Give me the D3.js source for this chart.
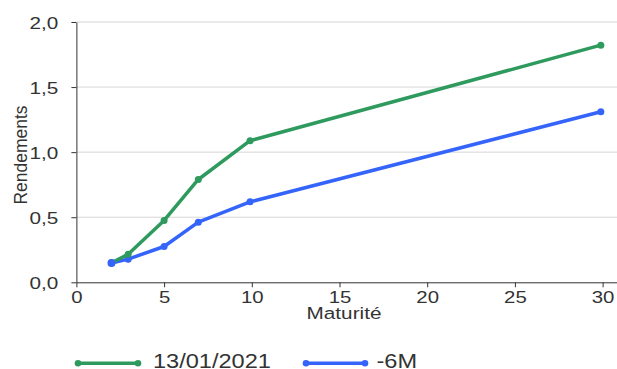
<!DOCTYPE html>
<html>
<head>
<meta charset="utf-8">
<script src="https://cdn.jsdelivr.net/npm/d3@7"></script>
<style>
  html, body { margin: 0; padding: 0; background: #fff; }
  svg { display: block; font-family: "Liberation Sans", Arial, sans-serif; }
</style>
</head>
<body>
<svg id="chart" width="617" height="369"></svg>
<script>
// Maturités (années) et rendements (%)
const maturities = [2, 2.95, 5, 6.95, 9.9, 29.9];
const seriesNames = ["13/01/2021", "-6M"];
const current = [0.15, 0.215, 0.475, 0.79, 1.088, 1.822];
const sixMonthsAgo = [0.148, 0.178, 0.275, 0.462, 0.618, 1.31];
const colors = ["#2e9a5d", "#3564fb"];
const xTicks = [0, 5, 10, 15, 20, 25, 30];
const yTicks = [0, 0.5, 1.0, 1.5, 2.0];

const svg = d3.select("#chart");
const plot = { left: 76.4, right: 617, top: 22, bottom: 282.3 };

const x = d3.scaleLinear().domain([0, 30]).range([plot.left, 602.6]);
x.domain([0, x.invert(plot.right)]).range([plot.left, plot.right]);
const y = d3.scaleLinear().domain([0, 2]).range([plot.bottom, plot.top]);

const fmt = d3.format(".1f");
const frFmt = v => fmt(v).replace(".", ",");

// horizontal grid
svg.append("g")
  .selectAll("line")
  .data(yTicks.filter(d => d > 0))
  .join("line")
  .attr("x1", plot.left).attr("x2", plot.right)
  .attr("y1", d => y(d)).attr("y2", d => y(d))
  .attr("stroke", "#d6d6d6").attr("stroke-width", 1);

// y axis
const gy = svg.append("g")
  .attr("transform", `translate(${plot.left},0)`)
  .call(d3.axisLeft(y).tickValues(yTicks).tickFormat(frFmt).tickSize(5).tickSizeOuter(0));
gy.select(".domain").attr("stroke", "#333");
gy.selectAll(".tick line").attr("stroke", "#333");
gy.selectAll(".tick text")
  .attr("x", null).attr("dy", null)
  .attr("font-size", 17).attr("fill", "#333")
  .attr("text-anchor", "end")
  .attr("transform", "translate(-18,6) scale(1.22,1)");

// x axis
const gx = svg.append("g")
  .attr("transform", `translate(0,${plot.bottom})`)
  .call(d3.axisBottom(x).tickValues(xTicks).tickFormat(d3.format("d")).tickSize(5).tickSizeOuter(0));
gx.select(".domain").attr("stroke", "#333");
gx.selectAll(".tick line").attr("stroke", "#333");
gx.selectAll(".tick text")
  .attr("y", null).attr("dy", null)
  .attr("font-size", 17).attr("fill", "#333")
  .attr("text-anchor", "middle")
  .attr("transform", "translate(0,21) scale(1.2,1)");

// axis titles
svg.append("text")
  .attr("transform", "translate(344,318.5) scale(1.22,1)")
  .attr("text-anchor", "middle")
  .attr("font-size", 17).attr("fill", "#333")
  .text("Maturité");

svg.append("text")
  .attr("transform", "translate(26.5,155) rotate(-90)")
  .attr("text-anchor", "middle")
  .attr("font-size", 17.5).attr("fill", "#333")
  .text("Rendements");

// series
const series = [current, sixMonthsAgo].map((vals, i) => ({
  name: seriesNames[i],
  color: colors[i],
  points: maturities.map((m, j) => ({ m, v: vals[j] }))
}));

const line = d3.line().x(d => x(d.m)).y(d => y(d.v));

// draw older curve first, current on top where they overlap
[series[1], series[0]].forEach(s => {
  const g = svg.append("g");
  g.append("path")
    .attr("d", line(s.points))
    .attr("fill", "none")
    .attr("stroke", s.color)
    .attr("stroke-width", 3.5)
    .attr("stroke-linejoin", "round");
  g.selectAll("circle")
    .data(s.points)
    .join("circle")
    .attr("cx", d => x(d.m)).attr("cy", d => y(d.v))
    .attr("r", 3.5).attr("fill", s.color);
});
// blue starting dot sits above the green one
svg.append("circle")
  .attr("cx", x(maturities[0])).attr("cy", y(sixMonthsAgo[0]))
  .attr("r", 4).attr("fill", colors[1]);

// legend
const legendItems = [
  { x1: 78, x2: 138, tx: 153, s: series[0] },
  { x1: 306, x2: 365, tx: 376.5, s: series[1] }
];
const lg = svg.append("g");
legendItems.forEach(it => {
  const ly = 363.3;
  lg.append("line")
    .attr("x1", it.x1).attr("x2", it.x2).attr("y1", ly).attr("y2", ly)
    .attr("stroke", it.s.color).attr("stroke-width", 3.5);
  [it.x1, it.x2].forEach(cx => lg.append("circle")
    .attr("cx", cx).attr("cy", ly).attr("r", 3.3).attr("fill", it.s.color));
  lg.append("text")
    .attr("transform", `translate(${it.tx},367.5) scale(1.15,1)`)
    .attr("font-size", 20.5).attr("fill", "#333")
    .text(it.s.name);
});
</script>
</body>
</html>
